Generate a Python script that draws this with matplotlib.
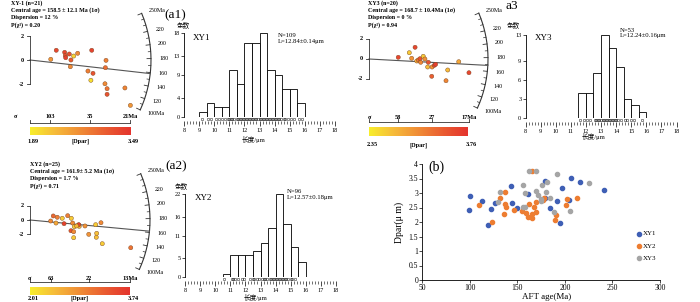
import numpy as np
import matplotlib
matplotlib.use('Agg')
import matplotlib.pyplot as plt
from matplotlib.colors import LinearSegmentedColormap
from matplotlib.transforms import offset_copy

plt.rcParams['font.family'] = ['Liberation Serif', 'Noto Sans CJK SC', 'DejaVu Sans']
plt.rcParams['mathtext.fontset'] = 'stix'

W, H = 700, 302

# ---------------- radial plot data: precision (1/sigma), standardised estimate, Dpar
xy1_prec = [1.25, 1.65, 1.68, 1.70, 1.87, 2.08, 2.27, 2.94, 1.95, 0.99, 1.92,
            2.76, 3.00, 2.90, 3.62, 3.59, 3.57, 3.67, 3.67, 4.52, 4.78]
xy1_std = [0.81, 0.64, 0.36, 0.19, 0.50, 0.33, 0.56, 0.81, 0.00, 0.06, -0.56,
           -0.92, -1.11, -1.69, -0.03, -0.64, -1.98, -2.39, -2.86, -2.33, -3.78]
xy1_col = [3.30, 3.30, 3.20, 3.35, 3.20, 2.10, 2.70, 3.35, 3.10, 2.60, 2.70,
           2.80, 3.20, 2.00, 2.80, 2.95, 2.70, 2.90, 3.20, 2.75, 2.60]

xy3_prec = [1.72, 2.37, 2.71, 2.51, 2.81, 2.90, 3.00, 3.19, 3.29, 3.04,
            3.49, 3.45, 3.71, 3.84, 3.92, 3.69, 4.63, 4.53, 5.28, 5.88]
xy3_std = [0.17, 0.63, 1.17, 0.07, -0.20, -0.10, 0.03, 0.27, 0.00, -0.33,
           -0.33, -0.80, -0.80, -0.63, -0.53, -1.73, -1.10, -2.17, -0.27, -1.37]
xy3_col = [3.60, 2.60, 3.60, 3.00, 2.80, 3.20, 3.50, 2.60, 3.00, 3.10,
           3.50, 2.70, 3.00, 3.60, 3.65, 3.40, 2.70, 3.10, 2.85, 3.60]

xy2_prec = [1.79, 2.10, 1.59, 2.00, 2.48, 2.90, 3.18, 2.62, 3.28, 3.41, 3.75, 3.79,
            3.75, 4.23, 5.05, 5.46, 3.15, 3.36, 3.36, 4.52, 5.13, 5.10, 5.56, 7.75, 3.59]
xy2_std = [0.56, 0.38, -0.14, -0.42, 0.24, 0.60, 0.24, -0.51, -0.42, -0.93, -0.69, -0.88,
           -0.65, -0.83, -0.65, -0.38, -1.49, -1.63, -2.46, -1.99, -1.85, -2.40, -3.29, -3.85, -0.83]
xy2_col = [3.20, 3.00, 2.90, 2.60, 2.30, 3.00, 2.30, 3.60, 2.90, 2.30, 2.90, 2.40,
           3.60, 2.80, 2.30, 2.90, 3.40, 2.90, 2.30, 2.80, 2.40, 2.40, 2.30, 3.10, 2.50]

arc_major = [100, 120, 140, 160, 180, 200, 220, 250]
arc_labels = ['100Ma', '120', '140', '160', '180', '200', '220', '250Ma']
arc_minor = [110, 130, 150, 170, 190, 210, 230, 240]

# ---------------- track length histograms
xy1_bins = [9.0, 9.5, 10.0, 10.5, 11.0, 11.5, 12.0, 12.5, 13.0, 13.5, 14.0, 14.5, 15.0, 15.5]
xy1_counts = [1, 3, 2, 2, 10, 7, 16, 16, 18, 10, 9, 6, 6, 3]
xy1_len = [9.2, 9.6, 9.8, 10.1, 10.3, 10.5, 10.7, 10.9, 11.0, 11.1, 11.2, 11.3, 11.5, 11.6,
           11.7, 11.8, 11.9, 12.0, 12.1, 12.2, 12.3, 12.4, 12.5, 12.6, 12.7, 12.8, 12.9, 13.0,
           13.1, 13.2, 13.3, 13.4, 13.5, 13.6, 13.7, 13.8, 13.9, 14.0, 14.1, 14.2, 14.3, 14.4,
           14.6, 14.7, 14.9, 15.1, 15.3, 15.6, 15.8]

xy3_bins = [11.5, 12.0, 12.5, 13.0, 13.5, 14.0, 14.5, 15.0, 15.5]
xy3_counts = [4, 4, 7, 13, 11, 8, 3, 2, 1]
xy3_len = [11.6, 11.9, 12.1, 12.3, 12.6, 12.7, 12.8, 12.9, 13.0, 13.1, 13.2, 13.3, 13.4,
           13.5, 13.6, 13.7, 13.8, 13.9, 14.0, 14.1, 14.3, 14.6, 14.7, 15.0, 15.2, 15.7]

xy2_bins = [10.5, 11.0, 11.5, 12.0, 12.5, 13.0, 13.5, 14.0, 14.5, 15.0, 15.5]
xy2_counts = [1, 6, 6, 6, 7, 9, 13, 22, 14, 8, 4]
xy2_len = [10.6, 11.1, 11.2, 11.3, 11.5, 11.8, 11.9, 12.3, 12.5, 12.6, 12.8, 12.9, 13.1,
           13.2, 13.3, 13.4, 13.6, 13.7, 13.8, 13.9, 14.0, 14.1, 14.2, 14.3, 14.4, 14.5,
           14.6, 14.7, 14.8, 15.0, 15.1, 15.3]

# ---------------- AFT age vs Dpar
age_xy1 = [98.7, 100.1, 112.4, 122.6, 119.4, 126.4, 142.9, 144.3, 149.2, 160.8,
           178.7, 179.0, 184.6, 191.3, 195.2, 197.3, 204.3, 206.4, 215.5, 241.4]
dpar_xy1 = [2.41, 2.91, 2.74, 2.46, 1.90, 2.64, 3.24, 2.67, 2.48, 2.97,
            3.43, 2.84, 2.48, 2.72, 1.97, 3.18, 2.76, 3.51, 3.37, 3.11]
age_xy2 = [109.3, 123.3, 132.0, 135.9, 136.6, 137.3, 138.0, 146.1, 154.5, 158.7, 161.9,
           161.5, 165.0, 165.4, 165.7, 167.5, 169.2, 169.9, 178.3, 177.0, 189.2, 190.6,
           201.1, 201.8, 212.3]
dpar_xy2 = [2.57, 2.01, 2.84, 2.29, 2.61, 3.02, 2.53, 2.41, 2.38, 2.32, 2.61,
            2.16, 2.29, 2.14, 3.76, 2.52, 2.36, 2.68, 2.82, 2.76, 2.07, 2.25,
            2.57, 2.78, 2.82]
age_xy3 = [131.7, 129.9, 156.2, 157.6, 155.5, 158.3, 162.2, 169.6, 175.5, 169.2,
           171.3, 174.5, 174.5, 180.1, 180.8, 184.3, 188.1, 191.3, 205.7, 225.7]
dpar_xy3 = [3.02, 2.68, 3.29, 2.99, 2.53, 2.53, 3.77, 3.75, 3.28, 3.08,
            2.92, 2.78, 2.72, 3.03, 3.37, 2.84, 2.36, 3.66, 2.37, 3.36]

cmap = LinearSegmentedColormap.from_list(
    'dpar', ['#f8ee2c', '#f6bb3a', '#f08c36', '#ea5c31', '#e4342e'])

K_ARC, T_REF = 0.0058, 178.0   # arc age scale (slope per Ma, age of horizontal)

fig = plt.figure(figsize=(7, 3.02), dpi=100)


def px_axes(left, top, width, height):
    return fig.add_axes([left / W, 1 - (top + height) / H, width / W, height / H])


def ftext(x, y, s, **kw):
    kw.setdefault('va', 'center')
    fig.text(x / W, 1 - y / H, s, **kw)


def radial_panel(box, origin, scale, radius, prec, std, col, clim, central,
                 err_labels, axis_py, lab_py, sigma_px, cbar_box, cbar_lab_py,
                 info, info_xy):
    left, top, width, height = box
    ox, oy = origin
    sx, sy = scale
    ax = px_axes(*box)
    ax.set_xlim((left - ox) / sx, (left + width - ox) / sx)
    ax.set_ylim((oy - top - height) / sy, (oy - top) / sy)
    ax.axis('off')

    # arc with age scale
    th = np.arctan(K_ARC * (np.linspace(100, 250, 200) - T_REF))
    ax.plot(radius * np.cos(th) / sx, radius * np.sin(th) / sy, color='#333333', lw=0.8)
    for t, lab in zip(arc_major, arc_labels):
        a = np.arctan(K_ARC * (t - T_REF))
        ax.plot([(radius - 4) * np.cos(a) / sx, radius * np.cos(a) / sx],
                [(radius - 4) * np.sin(a) / sy, radius * np.sin(a) / sy], color='#333333', lw=0.6)
        ax.text((radius + 8) * np.cos(a) / sx, (radius + 8) * np.sin(a) / sy, lab,
                fontsize=4.3, ha='left', va='center')
    for t in arc_minor:
        a = np.arctan(K_ARC * (t - T_REF))
        ax.plot([(radius - 2.5) * np.cos(a) / sx, radius * np.cos(a) / sx],
                [(radius - 2.5) * np.sin(a) / sy, radius * np.sin(a) / sy], color='#333333', lw=0.5)

    # central age line
    a = np.arctan(K_ARC * (central - T_REF))
    ax.plot([0, radius * np.cos(a) / sx], [0, radius * np.sin(a) / sy], color='#555555', lw=0.8)

    # standardised estimate axis
    ax.plot([0, 0], [-2, 2], color='#333333', lw=0.6)
    for v in (-2, 0, 2):
        ax.plot([-3 / sx, 0], [v, v], color='#333333', lw=0.6)
        ax.text(-6 / sx, v, str(v), fontsize=4.5, ha='right', va='center', fontweight='bold')

    # precision axis (relative error labels)
    y_ax = (oy - axis_py) / sy
    y_lab = (oy - lab_py) / sy
    precs = [100.0 / e for e in err_labels]
    ax.plot([0, precs[-1]], [y_ax, y_ax], color='#333333', lw=0.6)
    ax.plot([0, 0], [y_ax, y_ax + 3 / sy], color='#333333', lw=0.6)
    for i, (p, e) in enumerate(zip(precs, err_labels)):
        ax.plot([p, p], [y_ax, y_ax + 3 / sy], color='#333333', lw=0.6)
        lab = f'{e}Ma' if i == len(precs) - 1 else str(e)
        ax.text(p, y_lab, lab, fontsize=4.5, ha='center', va='center', fontweight='bold')
    ax.text((sigma_px - ox) / sx, y_lab, 'σ', fontsize=4.5, ha='center', va='center',
            fontweight='bold')

    ax.scatter(prec, std, c=col, cmap=cmap, vmin=clim[0], vmax=clim[1], s=9,
               edgecolors='#7a4520', linewidths=0.3, zorder=3, clip_on=False)

    # Dpar colour bar
    cax = px_axes(*cbar_box)
    cax.imshow(np.linspace(0, 1, 256)[None, :], aspect='auto', cmap=cmap)
    cax.axis('off')
    cl, ct, cw, ch = cbar_box
    ftext(cl + 3, cbar_lab_py, f'{clim[0]:.2f}', fontsize=4.5, ha='center', fontweight='bold')
    ftext(cl + cw / 2, cbar_lab_py, '[Dpar]', fontsize=4.5, ha='center', fontweight='bold')
    ftext(cl + cw + 3, cbar_lab_py, f'{clim[1]:.2f}', fontsize=4.5, ha='center', fontweight='bold')

    for i, line in enumerate(info):
        ftext(info_xy[0], info_xy[1] + i * 7.3, line, fontsize=4.3, ha='left', fontweight='bold')


def hist_panel(box, ymax, yticks, bins, counts, lengths, name, name_xy, stats, stats_xy,
               panel, panel_xy, ylab_xy, xlab_xy):
    ax = px_axes(*box)
    ax.bar(bins, counts, width=0.5, align='edge', facecolor='white', edgecolor='black',
           lw=0.6, zorder=2)
    ax.set_xlim(8, 18)
    ax.set_ylim(0, ymax)
    ax.axhline(0, color='black', lw=0.7, zorder=3)
    for s in ('top', 'right'):
        ax.spines[s].set_visible(False)
    ax.spines['bottom'].set_position(('outward', 3))
    ax.spines['bottom'].set_visible(False)
    ax.spines['left'].set_linewidth(0.6)
    ax.set_yticks(yticks)
    ax.set_xticks(range(8, 19))
    ax.set_xticks(np.arange(8, 18.01, 0.2), minor=True)
    ax.tick_params(axis='y', labelsize=4.5, length=2, width=0.5, pad=1)
    ax.tick_params(axis='x', which='major', labelsize=4.5, length=3.5, width=0.5, pad=1.5)
    ax.tick_params(axis='x', which='minor', length=2, width=0.4)
    tr = offset_copy(ax.transData, fig=fig, y=-1.5, units='points')
    ax.plot(lengths, np.zeros(len(lengths)), 'o', ms=1.8, mfc='none', mec='black',
            mew=0.3, transform=tr, clip_on=False, zorder=4)
    ftext(*name_xy, name, fontsize=6.5, ha='left')
    ftext(stats_xy[0], stats_xy[1], stats[0], fontsize=4.8, ha='left')
    ftext(stats_xy[0], stats_xy[1] + 6, stats[1], fontsize=4.8, ha='left')
    ftext(*panel_xy, panel, fontsize=9.5, ha='left')
    ftext(*ylab_xy, '条数', fontsize=4.8, ha='center')
    ftext(*xlab_xy, '长度/μm', fontsize=4.8, ha='center')


# ---------- XY1 radial
radial_panel((0, 0, 175, 150), (30, 60), (21, 12), 121,
             xy1_prec, xy1_std, xy1_col, (1.89, 3.49), 158.5,
             [103, 35, 21], 122.7, 117, 15.7, (30, 126.7, 100.7, 8.3), 141.7,
             ['XY-1 (n=21)', 'Central age = 158.5 ± 12.1 Ma (1σ)',
              'Dispersion = 12 %', 'P(χ²) = 0.20'], (11, 3.3))

# ---------- XY3 radial
radial_panel((340, 0, 175, 150), (369, 59), (17, 10), 119,
             xy3_prec, xy3_std, xy3_col, (2.35, 3.76), 168.7,
             [58, 27, 17], 121.7, 117.3, 369.3, (369, 126.7, 99, 9.3), 145,
             ['XY3 (n=20)', 'Central age = 168.7 ± 10.4Ma (1σ)',
              'Dispersion = 0 %', 'P(χ²) = 0.94'], (368, 3.3))

# ---------- XY2 radial
radial_panel((0, 152, 175, 150), (30, 220), (13, 7.2), 120,
             xy2_prec, xy2_std, xy2_col, (2.01, 3.74), 161.9,
             [63, 22, 13], 282, 278, 29.3, (30, 287, 100, 8), 298.5,
             ['XY2 (n=25)', 'Central age = 161.9± 5.2 Ma (1σ)',
              'Dispersion = 1.7 %', 'P(χ²) = 0.71'], (30, 164.3))

# ---------- histograms
hist_panel((184, 33.3, 151, 83.4), 18, [0, 4, 9, 13, 18], xy1_bins, xy1_counts, xy1_len,
           'XY1', (192.7, 38.3), ['N=109', 'L=12.84±0.14μm'], (278.3, 35.7),
           '(a1)', (164, 15), (183, 25), (253.7, 139.3))
hist_panel((525.5, 35, 151, 83.3), 13, [0, 3, 6, 9, 13], xy3_bins, xy3_counts, xy3_len,
           'XY3', (535, 38.3), ['N=53', 'L=12.24±0.16μm'], (620, 30),
           'a3', (505, 6), (513, 25), (594, 137))
hist_panel((185, 194.3, 151, 83), 22, [0, 5, 11, 16, 22], xy2_bins, xy2_counts, xy2_len,
           'XY2', (195, 197.7), ['N=96', 'L=12.57±0.18μm'], (286.7, 191.7),
           '(a2)', (165, 166.7), (181.7, 186), (255, 297.5))

# ---------- (b) AFT age vs Dpar
axb = px_axes(422.3, 164, 237.7, 116)
axb.scatter(age_xy1, dpar_xy1, s=9, color='#3f5fb5', label='XY1', zorder=3)
axb.scatter(age_xy2, dpar_xy2, s=9, color='#ed7d31', label='XY2', zorder=3)
axb.scatter(age_xy3, dpar_xy3, s=9, color='#a5a5a5', label='XY3', zorder=3)
axb.set_xlim(50, 300)
axb.set_ylim(0, 4)
axb.set_xticks(range(50, 301, 50))
axb.set_yticks(np.arange(0, 4.01, 0.5))
axb.set_yticklabels(['0', '0.5', '1', '1.5', '2', '2.5', '3', '3.5', '4'])
for s in ('top', 'right'):
    axb.spines[s].set_visible(False)
for s in ('left', 'bottom'):
    axb.spines[s].set_linewidth(0.6)
axb.tick_params(labelsize=5.5, length=2, width=0.5, pad=1)
axb.set_ylabel('Dpar(μ m)', fontsize=7, labelpad=3)
ftext(546.7, 296.8, 'AFT age(Ma)', fontsize=6.5, ha='center')
axb.legend(loc='upper left', bbox_to_anchor=(0.89, 0.45), frameon=False, fontsize=5,
           handlelength=0.6, handletextpad=0.3, labelspacing=0.9, borderaxespad=0)
ftext(428.3, 167.3, '(b)', fontsize=10, ha='left')

fig.savefig('out.png', dpi=100)
